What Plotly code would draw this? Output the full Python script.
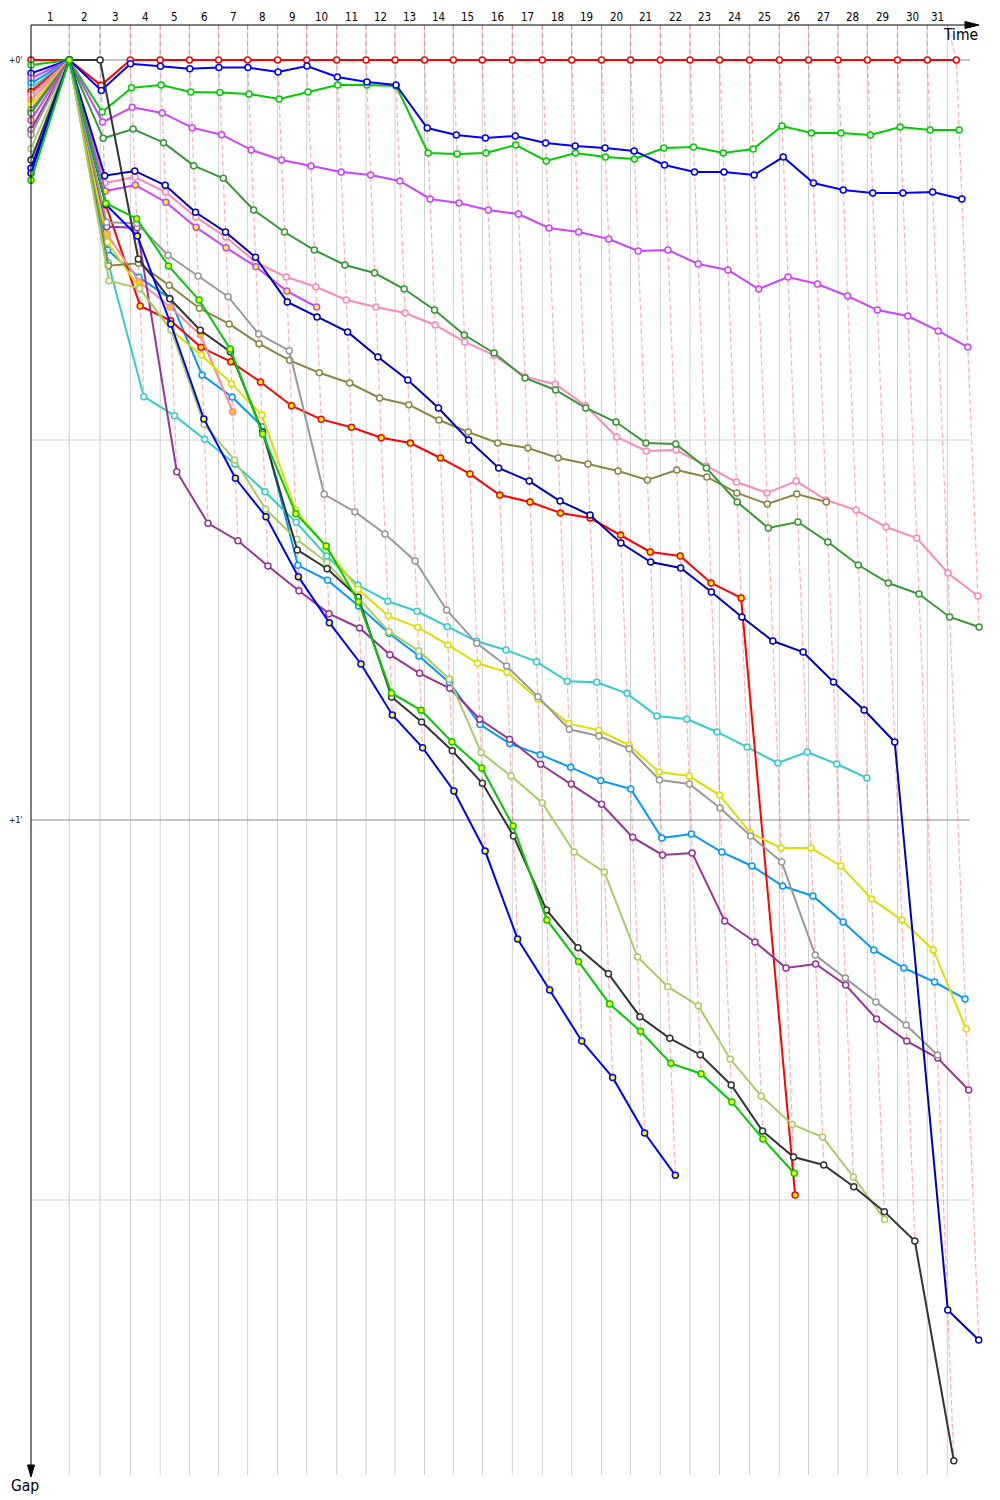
import plotly.graph_objects as go

# ---------------- data ----------------
# leader crossing time (s) at the end of laps 1..31
leader_times = [75.2, 135.7, 195.1, 253.8, 311.2, 368.5, 425.5, 484.4, 541.6, 600.5,
                658.1, 715.0, 773.0, 829.6, 886.5, 945.5, 1004.4, 1062.2, 1120.7, 1177.7,
                1236.2, 1294.6, 1352.5, 1411.4, 1470.0, 1527.3, 1585.3, 1642.9, 1702.2, 1760.7,
                1817.7]
race_end = 1800.0
lap_labels = [str(i) for i in range(1, 32)]
gap_ticks = [0, 60]
gap_tick_labels = ["+0'", "+1'"]
minor_gaps = [30, 90]

# gaps to leader (s) per lap, index 0 = grid, 1 = lap 1 ...
R1 = [0, 0, 2.0] + [0] * 29
B1 = [1.05, 0, 2.4, 0.3, 0.5, 0.7, 0.6, 0.6, 0.95, 0.47, 1.34, 1.74, 1.97, 5.37, 5.92, 6.16,
      6.0, 6.55, 6.79, 6.95, 7.18, 8.29, 8.84, 8.84, 9.08, 7.66, 9.71, 10.26, 10.5, 10.5, 10.42, 10.97]
G1 = [0.4, 0, 4.1, 2.2, 1.97, 2.53, 2.57, 2.68, 3.08, 2.53, 1.97, 1.97, 2.05, 7.34, 7.42, 7.34,
      6.71, 7.97, 7.34, 7.66, 7.82, 6.95, 6.87, 7.34, 7.03, 5.21, 5.76, 5.76, 5.92, 5.29, 5.53, 5.53]
V1 = [1.45, 0, 4.9, 3.73, 4.18, 5.34, 5.9, 7.1, 7.9, 8.37, 8.84, 9.08, 9.55, 10.97, 11.29, 11.84,
      12.16, 13.26, 13.58, 14.13, 15.08, 15.0, 16.1, 16.58, 18.08, 17.13, 17.68, 18.63, 19.74, 20.21, 21.39, 22.66]
DB = [1.84, 0, 15.0, 17.16, 18.8, 24.87, 26.6, 28.95, 39.89, 41.08, 43.1, 45.26, 47.05, 49.16, 52.47,
      53.97, 54.84, 55.84, 56.89, 57.55, 61.42, 61.1, 62.53, 63.63, 65.21, 66.0, 68.05, 70.26, 71.68, 72.79, 74.13]
CY = [2.2, 0, 16.0, 26.58, 28.08, 29.94, 31.89, 34.08, 36.5, 39.16, 41.45, 42.73, 43.52, 44.74, 45.89,
      46.58, 47.5, 49.05, 49.13, 50.0, 51.79, 52.03, 53.05, 54.24, 55.5, 54.63, 55.58, 56.68]
R2 = [2.5, 0, 11.45, 19.42, 20.58, 22.68, 23.82, 25.42, 27.29, 28.37, 29.0, 29.82, 30.24, 31.42, 32.68,
      34.34, 34.89, 35.76, 36.16, 37.5, 38.84, 39.16, 41.29, 42.47, 89.6]
PK = [2.76, 0, 9.71, 9.24, 10.42, 12.39, 13.97, 15.95, 17.13, 17.9, 18.95, 19.5, 19.97, 20.92, 22.26,
      23.3, 25.0, 25.6, 27.3, 29.76, 30.87, 30.79, 32.05, 33.32, 34.18, 33.24, 34.74, 35.53, 36.87, 37.74, 40.5, 42.32]
LP = [3.16, 0, 13.76, 17.5, 19.5, 21.7, 27.77]
YE = [3.55, 0, 14.39, 18.0, 21.32, 23.29, 25.55, 28.03, 35.53, 38.5, 41.79, 43.89, 44.79, 46.18, 47.63,
      48.32, 50.47, 52.39, 52.92, 54.1, 56.21, 56.53, 58.03, 61.03, 62.21, 62.21, 63.63, 66.24, 67.9, 70.26, 76.5]
OL = [3.95, 0, 16.24, 16.05, 17.79, 19.6, 20.84, 22.4, 23.71, 24.69, 25.5, 26.68, 27.21, 28.42, 29.37,
      30.24, 30.63, 31.42, 31.89, 32.45, 33.16, 32.37, 32.92, 34.18, 35.05, 34.26, 34.89]
DG = [4.2, 0, 6.18, 5.45, 6.53, 8.34, 9.34, 11.84, 13.58, 15.0, 16.18, 16.82, 18.08, 19.74, 21.71, 23.13,
      25.1, 26.05, 27.47, 28.58, 30.24, 30.32, 32.21, 34.89, 36.95, 36.47, 38.05, 39.87, 41.29, 42.16, 43.97, 44.76]
V2 = [4.75, 0, 10.34, 9.87, 11.23, 13.21, 14.82, 16.32, 18.24, 19.5]
PU = [5.5, 0, 13.16, 13.24, 32.5, 36.58, 37.95, 39.95, 41.9, 43.71, 44.84, 46.95, 48.42, 49.6, 52.05,
      53.63, 55.6, 57.16, 58.76, 61.37, 62.76, 62.6, 67.97, 69.63, 71.68, 71.37, 73.03, 75.71, 77.45, 78.79, 81.32]
GR = [5.9, 0, 12.81, 12.89, 15.42, 17.05, 18.69, 21.63, 22.95, 34.29, 35.66, 37.42, 39.55, 43.42, 46.05,
      47.84, 50.26, 52.84, 53.37, 54.37, 56.84, 57.16, 59.05, 61.26, 63.32, 70.66, 72.47, 74.37, 76.18, 78.55]
YG = [7.0, 0, 17.42, 18.03, 21.3, 28.76, 31.58, 35.47, 37.84, 39.66, 42.47, 45.13, 46.63, 48.87, 54.68,
      56.53, 58.63, 62.53, 64.11, 70.82, 73.16, 74.66, 78.87, 81.79, 84.03, 85.03, 88.18, 91.53]
BK = [7.9, 0, 0, 15.71, 18.85, 21.34, 23.03, 29.37, 38.68, 40.16, 42.42, 50.29, 52.26, 54.53, 57.1,
      61.26, 67.1, 70.08, 72.13, 75.53, 77.24, 78.53, 80.92, 84.55, 86.61, 87.24, 88.95, 90.92, 93.24, 110.58]
NV = [8.55, 0, 9.13, 8.76, 9.89, 12.02, 13.58, 15.58, 19.1, 20.29, 21.47, 23.45, 25.26, 27.47, 30.0,
      32.21, 33.24, 34.82, 35.92, 38.13, 39.63, 40.1, 42.0, 43.97, 45.87, 46.74, 49.1, 51.32, 53.84, 98.68, 101.05]
B2 = [8.95, 0, 11.4, 13.89, 20.84, 28.34, 33.02, 36.05, 40.79, 44.42, 47.68, 51.71, 54.29, 57.71, 62.45,
      69.39, 73.42, 77.45, 80.32, 84.71, 88.05]
G2 = [9.5, 0, 11.31, 12.53, 16.26, 18.95, 22.82, 29.53, 35.82, 38.37, 42.76, 49.97, 51.34, 53.82, 55.89,
      60.47, 67.89, 71.18, 74.53, 76.68, 79.21, 80.03, 82.26, 85.18, 87.89]

# (gaps, line colour, marker fill)
series = [
    (R1, "#ff0000", "#ffffff"), (G1, "#00cc00", "#ffffff"), (B1, "#0000ff", "#ffffff"),
    (V1, "#cc44ff", "#ffffff"), (DB, "#0099ff", "#ffffff"), (CY, "#33cccc", "#ffffff"),
    (R2, "#ff0000", "#ffff00"), (PK, "#ff88bb", "#ffffff"), (LP, "#ff8899", "#ffcc00"),
    (YE, "#dddd00", "#ffffff"), (OL, "#888844", "#ffffff"), (DG, "#339933", "#ffffff"),
    (V2, "#cc44ff", "#ffff00"), (PU, "#993399", "#ffffff"), (GR, "#999999", "#ffffff"),
    (YG, "#aacc66", "#ffffff"), (BK, "#333333", "#ffffff"), (NV, "#0000bb", "#ffffff"),
    (B2, "#0000ff", "#ffff00"), (G2, "#00cc00", "#ffff00"),
]

# ---------------- geometry ----------------
W, H = 1000, 1500
ML, MR, MT, MB = 31, 10, 25, 25
PW, PH = W - ML - MR, H - MT - MB
KX = 0.50906          # px per second on the time axis
KY = 760 / 60.0       # px per second on the gap axis
x_max = PW / KX
y_top = -(60 - MT) / KY
y_bot = y_top + PH / KY


def px(x):
    return (x - ML) / PW


def py(y):
    return (H - MB - y) / PH


def rgba(hexc, a):
    h = hexc.lstrip("#")
    return "rgba(%d,%d,%d,%.2f)" % (int(h[0:2], 16), int(h[2:4], 16), int(h[4:6], 16), a)


def xs_of(gaps):
    return [0.0] + [leader_times[n - 1] + g for n, g in enumerate(gaps) if n >= 1]


FONT = "DejaVu Sans Condensed, DejaVu Sans, sans-serif"
fig = go.Figure()

# lap dashed guide lines
for n in range(1, len(leader_times) + 1):
    at_lap = [(s[0][n], s[1]) for s in series if len(s[0]) > n]
    lead_col = min(at_lap, key=lambda t: t[0])[1]
    maxg = max(g for g, _ in at_lap)
    t = leader_times[n - 1]
    top_x = t if n <= 30 else race_end
    fig.add_trace(go.Scatter(
        x=[top_x, t, t + maxg], y=[y_top, 0, maxg], mode="lines",
        line=dict(color=rgba(lead_col, 0.3), width=1.3, dash="5px,3px"),
        hoverinfo="skip", cliponaxis=False))

# driver traces
for gaps, col, fill in series:
    fig.add_trace(go.Scatter(
        x=xs_of(gaps), y=gaps, mode="lines+markers",
        line=dict(color=col, width=2),
        marker=dict(size=6, color=fill, line=dict(color=col, width=1.5)),
        cliponaxis=False, hoverinfo="skip"))

shapes = []
grid_x = leader_times[:30] + [race_end]
for gx in grid_x:
    shapes.append(dict(type="line", xref="x", yref="paper", x0=gx, x1=gx, y0=0, y1=1,
                       line=dict(color="#d0d0d0", width=1), layer="below"))
for g in minor_gaps:
    shapes.append(dict(type="line", xref="paper", yref="y", x0=0, x1=px(970), y0=g, y1=g,
                       line=dict(color="#d0d0d0", width=1), layer="below"))
for g in gap_ticks:
    shapes.append(dict(type="line", xref="paper", yref="y", x0=0, x1=px(970), y0=g, y1=g,
                       line=dict(color="#8c8c8c", width=1), layer="below"))
# axes with arrows
shapes.append(dict(type="line", xref="paper", yref="paper", x0=0, x1=px(968), y0=1, y1=1,
                   line=dict(color="black", width=1)))
shapes.append(dict(type="path", xref="paper", yref="paper",
                   path="M %f %f L %f %f L %f %f Z" % (px(965), py(21.5), px(979), py(25), px(965), py(28.5)),
                   fillcolor="black", line=dict(color="black", width=1)))
shapes.append(dict(type="line", xref="paper", yref="paper", x0=0, x1=0, y0=1, y1=py(1466),
                   line=dict(color="black", width=1)))
shapes.append(dict(type="path", xref="paper", yref="paper",
                   path="M %f %f L %f %f L %f %f Z" % (px(27.5), py(1465), px(31), py(1477), px(34.5), py(1465)),
                   fillcolor="black", line=dict(color="black", width=1)))

ann = []
bounds = [0.0] + grid_x
for i, lab in enumerate(lap_labels):
    ann.append(dict(x=(bounds[i] + bounds[i + 1]) / 2, y=py(17), xref="x", yref="paper",
                    text=lab, showarrow=False, font=dict(size=11.5, color="black", family=FONT),
                    xanchor="center", yanchor="middle"))
for g, lab in zip(gap_ticks, gap_tick_labels):
    ann.append(dict(x=px(24), y=g, xref="paper", yref="y", text=lab, showarrow=False,
                    font=dict(size=8.5, color="black", family=FONT), xanchor="right", yanchor="middle"))
ann.append(dict(x=px(960), y=py(35), xref="paper", yref="paper", text="Time", showarrow=False,
                font=dict(size=15.5, color="black", family=FONT), xanchor="center", yanchor="middle"))
ann.append(dict(x=px(25), y=py(1486), xref="paper", yref="paper", text="Gap", showarrow=False,
                font=dict(size=15.5, color="black", family=FONT), xanchor="center", yanchor="middle"))

fig.update_layout(
    width=W, height=H, autosize=False,
    margin=dict(l=ML, r=MR, t=MT, b=MB, pad=0),
    paper_bgcolor="white", plot_bgcolor="white",
    showlegend=False, shapes=shapes, annotations=ann,
    xaxis=dict(range=[0, x_max], visible=False, fixedrange=True),
    yaxis=dict(range=[y_bot, y_top], visible=False, fixedrange=True),
)

fig.write_html("out.html", config={"displayModeBar": False, "staticPlot": True},
               post_script="document.body.style.margin='0';document.body.style.padding='0';")
